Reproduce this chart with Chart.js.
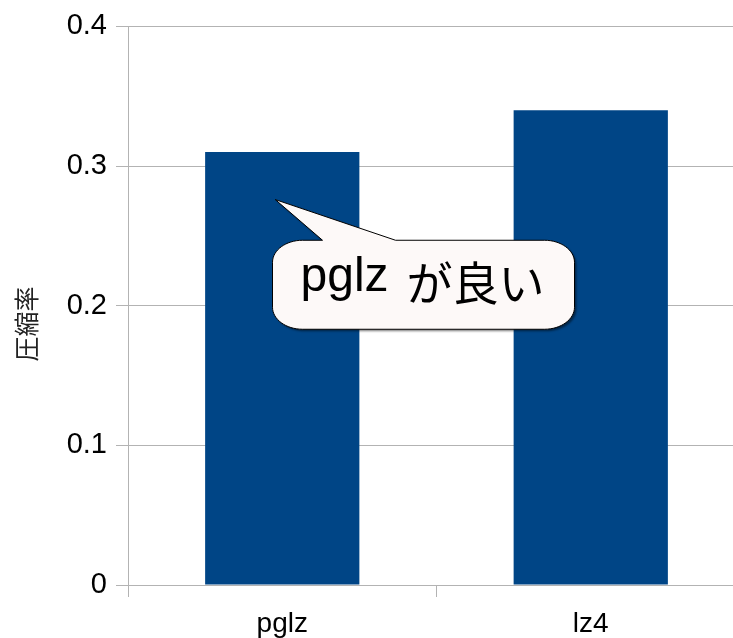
<!DOCTYPE html>
<html>
<head>
<meta charset="utf-8">
<script src="https://cdn.jsdelivr.net/npm/chart.js@4.4.0/dist/chart.umd.min.js"></script>
<style>
  html, body { margin: 0; padding: 0; background: #fff; overflow: hidden; }
  #wrap { width: 745px; height: 638px; }
</style>
</head>
<body>
<div id="wrap"><canvas id="chart" width="745" height="638"></canvas></div>
<script>
// --- data ---
const categories = ['pglz', 'lz4'];
const ratios = [0.31, 0.34];
const yTickLabels = ['0', '0.1', '0.2', '0.3', '0.4'];
const yTitle = '圧縮率';
const calloutLatin = 'pglz';
const calloutCjk = 'が良い';

const GRID = '#b3b3b3';
const BAR = '#004586';

// speech bubble + rotated axis title
const calloutPlugin = {
  id: 'callout',
  afterDraw(chart) {
    const ctx = chart.ctx;
    const xs = chart.scales.x;
    const ys = chart.scales.y;

    // axis title
    ctx.save();
    ctx.translate(26, 324);
    ctx.rotate(-Math.PI / 2);
    ctx.font = "25px 'Noto Sans CJK JP'";
    ctx.fillStyle = '#222';
    ctx.textAlign = 'center';
    ctx.textBaseline = 'middle';
    ctx.fillText(yTitle, 0, 0);
    ctx.restore();

    // bubble box, placed between the two bars
    const cx = (xs.getPixelForValue(0) + xs.getPixelForValue(1)) / 2 - 13;
    const cy = ys.getPixelForValue(0.215);
    const w = 302, h = 89;
    const l = cx - w / 2, r = cx + w / 2, t = cy - h / 2, b = cy + h / 2;
    const rx = 30, ry = 22, k = 0.55;
    const tipX = xs.getPixelForValue(0) - 7, tipY = ys.getPixelForValue(0.276);
    const baseL = l + 50, baseR = l + 123;

    ctx.save();
    ctx.beginPath();
    ctx.moveTo(l + rx, t);
    ctx.lineTo(baseL, t);
    ctx.lineTo(tipX, tipY);
    ctx.lineTo(baseR, t);
    ctx.lineTo(r - rx, t);
    ctx.bezierCurveTo(r - rx + rx * k, t, r, t + ry - ry * k, r, t + ry);
    ctx.lineTo(r, b - ry);
    ctx.bezierCurveTo(r, b - ry + ry * k, r - rx + rx * k, b, r - rx, b);
    ctx.lineTo(l + rx, b);
    ctx.bezierCurveTo(l + rx - rx * k, b, l, b - ry + ry * k, l, b - ry);
    ctx.lineTo(l, t + ry);
    ctx.bezierCurveTo(l, t + ry - ry * k, l + rx - rx * k, t, l + rx, t);
    ctx.closePath();
    ctx.shadowColor = 'rgba(0,0,0,0.45)';
    ctx.shadowOffsetX = 2;
    ctx.shadowOffsetY = 2;
    ctx.shadowBlur = 2;
    ctx.fillStyle = '#fdf9f8';
    ctx.fill();
    ctx.shadowColor = 'transparent';
    ctx.strokeStyle = '#000';
    ctx.lineWidth = 1;
    ctx.stroke();

    ctx.fillStyle = '#000';
    ctx.textBaseline = 'alphabetic';
    ctx.textAlign = 'left';
    ctx.font = "48px 'Liberation Sans'";
    const tx = l + 28;
    ctx.fillText(calloutLatin, tx, cy + 6);
    ctx.font = "46px 'Noto Sans CJK JP'";
    ctx.fillText(calloutCjk, tx + 106, cy + 15);
    ctx.restore();
  }
};

new Chart(document.getElementById('chart'), {
  type: 'bar',
  data: {
    labels: categories,
    datasets: [{
      data: ratios,
      backgroundColor: BAR,
      borderWidth: 0,
      barPercentage: 0.5,
      categoryPercentage: 1.0
    }]
  },
  options: {
    responsive: false,
    animation: false,
    layout: { padding: { top: 26, right: 0, left: 0, bottom: 0 } },
    plugins: {
      legend: { display: false },
      tooltip: { enabled: false }
    },
    scales: {
      x: {
        grid: { offset: true, drawOnChartArea: false, color: GRID, tickLength: 12 },
        border: { color: GRID },
        ticks: {
          color: '#000',
          padding: 10,
          font: { family: "'Liberation Sans'", size: 28 }
        },
        afterFit(scale) { scale.height = 53; }
      },
      y: {
        min: 0,
        max: 0.4,
        grid: { color: GRID, tickLength: 12 },
        border: { color: GRID },
        ticks: {
          stepSize: 0.1,
          color: '#000',
          padding: 9,
          font: { family: "'Liberation Sans'", size: 29 },
          callback: (v, i) => yTickLabels[i]
        },
        afterFit(scale) { scale.width = 128; }
      }
    }
  },
  plugins: [calloutPlugin]
});
</script>
</body>
</html>
